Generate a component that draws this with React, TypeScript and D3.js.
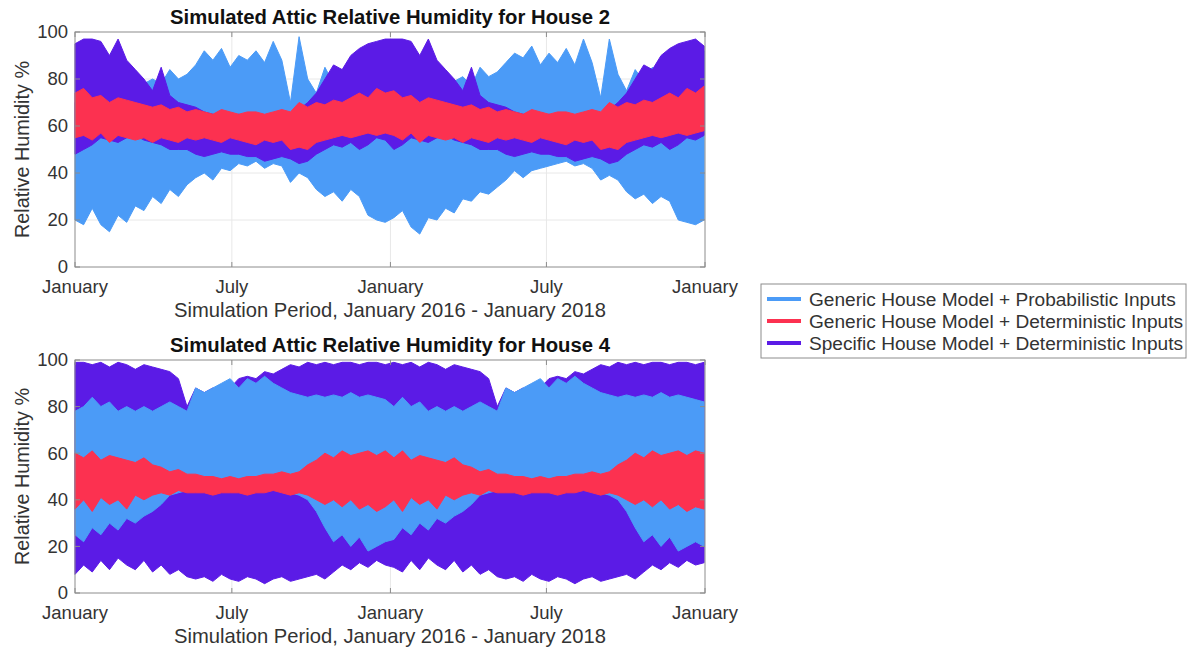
import React from 'react';
import * as d3 from 'd3';

// Sample days (days after 1 Jan 2016), roughly every 10 days
const sampleDays = [
  0, 10, 20, 30, 40, 50, 60, 70, 80, 90, 100, 110, 120, 130, 140, 150, 160, 170, 180, 190,
  200, 210, 220, 230, 240, 250, 260, 270, 280, 290, 300, 310, 320, 330, 340, 350, 360,
  370, 380, 390, 400, 410, 420, 430, 440, 450, 460, 470, 480, 490, 500, 510, 520, 530, 540,
  550, 560, 570, 580, 590, 600, 610, 620, 630, 640, 650, 660, 670, 680, 690, 700, 710, 720, 730,
];

// ---------- House 2 (envelopes) ----------
const h2BlueLo = [
  20, 18, 25, 18, 15, 22, 19, 26, 24, 30, 27, 33, 30, 35, 38, 40, 37, 42, 41, 44,
  43, 45, 42, 44, 43, 36, 40, 38, 33, 30, 32, 28, 33, 30, 22, 20, 19,
  21, 24, 17, 14, 21, 20, 25, 23, 29, 28, 32, 31, 34, 37, 41, 38, 41, 42, 43, 44,
  45, 43, 44, 42, 37, 39, 37, 32, 29, 31, 27, 30, 28, 20, 19, 18, 20,
];
const h2BlueHi = [
  70, 72, 68, 75, 78, 80, 75, 82, 78, 80, 78, 84, 80, 82, 86, 92, 88, 93, 85, 90,
  88, 92, 87, 96, 88, 70, 98, 80, 74, 85, 78, 84, 80, 78, 80, 82, 80,
  71, 70, 76, 77, 82, 76, 80, 79, 81, 77, 85, 81, 83, 87, 91, 89, 94, 86, 91, 87,
  93, 86, 97, 87, 72, 97, 82, 75, 84, 79, 85, 81, 80, 82, 90, 86, 92,
];
const h2RedLo = [
  55, 56, 54, 57, 53, 56, 55, 54, 55, 53, 55, 54, 53, 55, 54, 55, 54, 53, 55, 54,
  53, 52, 54, 53, 54, 50, 51, 50, 53, 54, 55, 56, 55, 56, 57, 56, 57,
  56, 54, 57, 53, 56, 55, 54, 55, 53, 55, 54, 53, 55, 54, 55, 54, 53, 55, 54, 53,
  52, 54, 53, 54, 50, 51, 50, 53, 54, 55, 56, 55, 56, 57, 56, 57, 58,
];
const h2RedHi = [
  74, 76, 72, 73, 70, 72, 71, 70, 69, 68, 69, 67, 68, 66, 67, 66, 65, 67, 66, 65,
  66, 66, 65, 66, 67, 66, 70, 68, 70, 69, 71, 70, 72, 74, 72, 76, 74,
  75, 72, 73, 70, 72, 71, 70, 69, 68, 69, 67, 68, 66, 67, 66, 65, 67, 66, 65, 66,
  66, 65, 66, 67, 66, 70, 68, 70, 69, 71, 70, 72, 74, 72, 76, 74, 77,
];
const h2PurpleLo = [
  48, 50, 52, 55, 54, 53, 55, 56, 54, 53, 52, 50, 50, 50, 48, 47, 48, 49, 48, 48,
  47, 47, 45, 46, 47, 46, 44, 45, 48, 50, 52, 51, 53, 50, 52, 55, 54,
  50, 52, 55, 54, 53, 55, 56, 54, 53, 52, 50, 50, 50, 48, 47, 48, 49, 48, 48, 47,
  47, 45, 46, 47, 46, 44, 45, 48, 50, 52, 51, 53, 50, 52, 55, 54, 56,
];
const h2PurpleHi = [
  95, 97, 97, 96, 90, 97, 88, 84, 80, 75, 85, 73, 70, 69, 68, 66, 65, 64, 64, 65,
  64, 63, 64, 62, 64, 65, 67, 70, 74, 80, 86, 84, 90, 93, 95, 96, 97,
  97, 97, 96, 90, 97, 88, 84, 80, 75, 85, 73, 70, 69, 68, 66, 65, 64, 64, 65, 64,
  63, 64, 62, 64, 65, 67, 70, 74, 80, 86, 84, 90, 93, 95, 96, 97, 94,
];

// ---------- House 4 ----------
const h4PurpleLo = [
  8, 12, 9, 14, 10, 15, 12, 10, 14, 9, 12, 8, 10, 7, 6, 7, 5, 8, 6, 5,
  7, 6, 4, 6, 7, 5, 6, 7, 8, 6, 9, 12, 10, 13, 11, 14, 12,
  11, 9, 14, 10, 15, 12, 10, 14, 9, 12, 8, 10, 7, 6, 7, 5, 8, 6, 5, 7,
  6, 4, 6, 7, 5, 6, 7, 8, 6, 9, 12, 10, 13, 11, 14, 12, 13,
];
const h4PurpleHi = [
  99, 99, 98, 99, 97, 99, 98, 96, 98, 97, 96, 95, 92, 80, 88, 86, 88, 86, 88, 92,
  93, 92, 95, 94, 96, 98, 97, 99, 98, 99, 98, 99, 99, 98, 99, 99, 98,
  99, 98, 99, 97, 99, 98, 96, 98, 97, 96, 95, 92, 80, 88, 86, 88, 86, 88, 92, 93,
  92, 95, 94, 96, 98, 97, 99, 98, 99, 98, 99, 99, 98, 99, 99, 98, 99,
];
const h4BlueLo = [
  25, 22, 28, 25, 30, 27, 32, 30, 33, 35, 38, 42, 43, 44, 44, 44, 45, 45, 45, 45,
  45, 44, 44, 45, 44, 43, 42, 40, 35, 28, 22, 25, 20, 24, 18, 20, 22,
  23, 28, 25, 30, 27, 32, 30, 33, 35, 38, 42, 43, 44, 44, 44, 45, 45, 45, 45, 45,
  44, 44, 45, 44, 43, 42, 40, 35, 28, 22, 25, 20, 24, 18, 20, 22, 20,
];
const h4BlueHi = [
  78, 80, 84, 80, 82, 78, 80, 78, 80, 78, 80, 82, 80, 78, 88, 86, 88, 90, 92, 88,
  92, 90, 93, 90, 88, 86, 85, 84, 85, 84, 85, 84, 86, 84, 85, 84, 83,
  80, 84, 80, 82, 78, 80, 78, 80, 78, 80, 82, 80, 78, 88, 86, 88, 90, 92, 88, 92,
  90, 93, 90, 88, 86, 85, 84, 85, 84, 85, 84, 86, 84, 85, 84, 83, 82,
];
const h4RedLo = [
  36, 40, 35, 41, 38, 40, 36, 42, 40, 42, 43, 42, 44, 43, 43, 43, 42, 43, 43, 43,
  42, 43, 43, 44, 43, 42, 43, 42, 40, 38, 40, 37, 40, 36, 38, 35, 37,
  40, 35, 41, 38, 40, 36, 42, 40, 42, 43, 42, 44, 43, 43, 43, 42, 43, 43, 43, 42,
  43, 43, 44, 43, 42, 43, 42, 40, 38, 40, 37, 40, 36, 38, 35, 37, 36,
];
const h4RedHi = [
  60, 58, 61, 57, 59, 58, 57, 56, 58, 55, 54, 52, 53, 51, 51, 50, 50, 49, 50, 49,
  50, 50, 51, 51, 52, 51, 52, 55, 57, 60, 58, 61, 59, 60, 61, 59, 61,
  58, 61, 57, 59, 58, 57, 56, 58, 55, 54, 52, 53, 51, 51, 50, 50, 49, 50, 49, 50,
  50, 51, 51, 52, 51, 52, 55, 57, 60, 58, 61, 59, 60, 61, 59, 61, 60,
];

const seriesNames = [
  'Generic House Model + Probabilistic Inputs',
  'Generic House Model + Deterministic Inputs',
  'Specific House Model + Deterministic Inputs',
];
const seriesColors = ['#4b9bf7', '#fc3150', '#5b1be6'];

const xTickDates = ['2016-01-01', '2016-07-01', '2017-01-01', '2017-07-01', '2018-01-01'];
const xTickLabels = ['January', 'July', 'January', 'July', 'January'];
const yTicks = [0, 20, 40, 60, 80, 100];

const titles = [
  'Simulated Attic Relative Humidity for House 2',
  'Simulated Attic Relative Humidity for House 4',
];
const xAxisLabel = 'Simulation Period, January 2016 - January 2018';
const yAxisLabel = 'Relative Humidity %';

const FONT = '"Liberation Sans", Arial, Helvetica, sans-serif';

const parseDay = (s: string) => {
  const [y, m, d] = s.split('-').map(Number);
  return new Date(y, m - 1, d);
};
const dayToDate = (d: number) => new Date(2016, 0, 1 + d);

const x = d3.scaleTime().domain([new Date(2016, 0, 1), new Date(2018, 0, 1)]).range([75, 705]);

type Band = { lo: number[]; hi: number[]; color: string };

function Panel({ top, bottom, title, bands }: { top: number; bottom: number; title: string; bands: Band[] }) {
  const y = d3.scaleLinear().domain([0, 100]).range([bottom, top]);
  const [x0, x1] = x.range();
  const midX = (x0 + x1) / 2;
  return (
    <g>
      {yTicks.slice(1, -1).map((t) => (
        <line key={'gy' + t} x1={x0} x2={x1} y1={y(t)} y2={y(t)} stroke="#e8e8e8" strokeWidth={1} />
      ))}
      {xTickDates.slice(1, -1).map((t) => (
        <line key={'gx' + t} x1={x(parseDay(t))} x2={x(parseDay(t))} y1={top} y2={bottom} stroke="#e8e8e8" strokeWidth={1} />
      ))}
      {bands.map((b, bi) => {
        const pts = sampleDays.map((d, i) => ({ date: dayToDate(d), lo: b.lo[i], hi: b.hi[i] }));
        const area = d3
          .area<{ date: Date; lo: number; hi: number }>()
          .x((p) => x(p.date))
          .y0((p) => y(p.lo))
          .y1((p) => y(p.hi))
          .curve(d3.curveLinear);
        return <path key={bi} d={area(pts) || ''} fill={b.color} stroke={b.color} strokeWidth={1} />;
      })}
      <rect x={x0} y={top} width={x1 - x0} height={bottom - top} fill="none" stroke="#8c8c8c" strokeWidth={1} />
      {xTickDates.map((t, i) => {
        const xx = x(parseDay(t));
        return (
          <g key={'xt' + i}>
            <line x1={xx} x2={xx} y1={bottom} y2={bottom - 5} stroke="#8c8c8c" />
            <line x1={xx} x2={xx} y1={top} y2={top + 5} stroke="#8c8c8c" />
            <text x={xx} y={bottom + 26} textAnchor="middle" fontSize={18.5} fill="#333" fontFamily={FONT}>
              {xTickLabels[i]}
            </text>
          </g>
        );
      })}
      {yTicks.map((t) => (
        <g key={'yt' + t}>
          <line x1={x0} x2={x0 + 5} y1={y(t)} y2={y(t)} stroke="#8c8c8c" />
          <line x1={x1} x2={x1 - 5} y1={y(t)} y2={y(t)} stroke="#8c8c8c" />
          <text x={x0 - 7} y={y(t)} dy="0.35em" textAnchor="end" fontSize={18.5} fill="#333" fontFamily={FONT}>
            {t}
          </text>
        </g>
      ))}
      <text x={midX} y={top - 8} textAnchor="middle" fontSize={20.3} fontWeight="bold" fill="#111" fontFamily={FONT}>
        {title}
      </text>
      <text x={midX} y={bottom + 50} textAnchor="middle" fontSize={20.2} fill="#333" fontFamily={FONT}>
        {xAxisLabel}
      </text>
      <text
        transform={`translate(${22},${(top + bottom) / 2}) rotate(-90)`}
        textAnchor="middle"
        dy="0.35em"
        fontSize={19.8}
        fill="#333"
        fontFamily={FONT}
      >
        {yAxisLabel}
      </text>
    </g>
  );
}

export default function App() {
  const [blue, red, purple] = seriesColors;
  const top: Band[] = [
    { lo: h2BlueLo, hi: h2BlueHi, color: blue },
    { lo: h2PurpleLo, hi: h2PurpleHi, color: purple },
    { lo: h2RedLo, hi: h2RedHi, color: red },
  ];
  const bottom: Band[] = [
    { lo: h4PurpleLo, hi: h4PurpleHi, color: purple },
    { lo: h4BlueLo, hi: h4BlueHi, color: blue },
    { lo: h4RedLo, hi: h4RedHi, color: red },
  ];
  const legX = 761, legY = 284, legW = 425, legH = 74;
  return (
    <svg width={1193} height={651} style={{ position: 'absolute', left: 0, top: 0, display: 'block', background: '#fff' }}>
      <rect width={1193} height={651} fill="#fff" />
      <Panel top={32} bottom={267} title={titles[0]} bands={top} />
      <Panel top={360} bottom={593} title={titles[1]} bands={bottom} />
      <g>
        <rect x={legX} y={legY} width={legW} height={legH} fill="#fff" stroke="#8c8c8c" strokeWidth={1} />
        {seriesNames.map((n, i) => {
          const yy = legY + 15 + i * 22;
          return (
            <g key={n}>
              <line x1={767} x2={801} y1={yy} y2={yy} stroke={seriesColors[i]} strokeWidth={4} />
              <text x={809} y={yy} dy="0.35em" fontSize={19.1} fill="#333" fontFamily={FONT}>
                {n}
              </text>
            </g>
          );
        })}
      </g>
    </svg>
  );
}
